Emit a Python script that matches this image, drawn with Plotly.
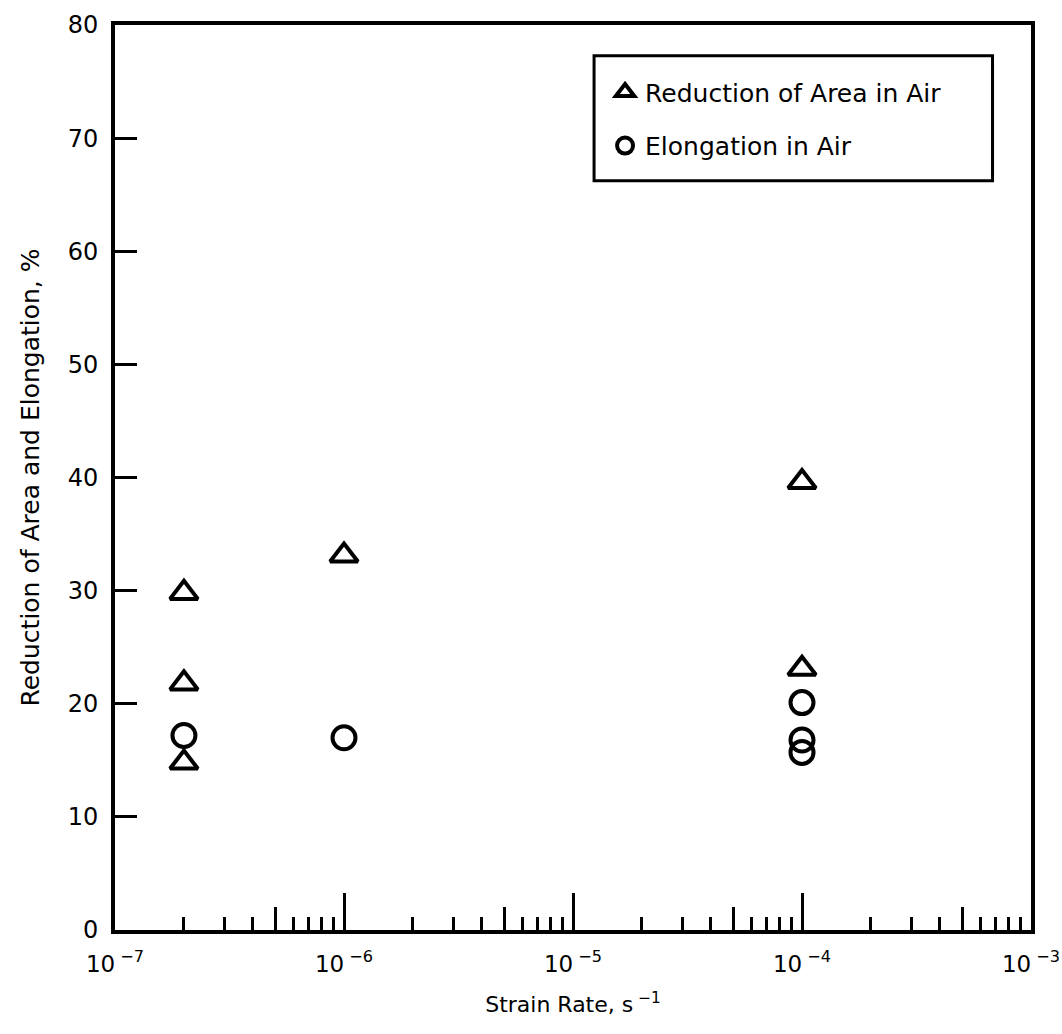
import plotly.graph_objects as go

# Data
ra_rate = [2e-7, 2e-7, 2e-7, 1e-6, 1e-4, 1e-4]
ra_val = [29.8, 21.8, 14.8, 33.1, 39.6, 23.1]
el_rate = [2e-7, 1e-6, 1e-4, 1e-4, 1e-4]
el_val = [17.2, 17.0, 20.1, 16.8, 15.7]

x_major = [1e-7, 1e-6, 1e-5, 1e-4, 1e-3]
x_major_text = ["10<sup> −7</sup>", "10<sup> −6</sup>", "10<sup> −5</sup>", "10<sup> −4</sup>", "10<sup> −3</sup>"]
x_mid = [5e-7, 5e-6, 5e-5, 5e-4]
x_small = [m * d for d in [1e-7, 1e-6, 1e-5, 1e-4] for m in [2, 3, 4, 6, 7, 8, 9]]
y_ticks = [0, 10, 20, 30, 40, 50, 60, 70, 80]

FONT = "DejaVu Sans, Verdana, sans-serif"

fig = go.Figure()
fig.add_trace(go.Scatter(
    x=ra_rate, y=ra_val, mode="markers", name="Reduction of Area in Air",
    legendgroup="a",
    marker=dict(symbol="triangle-up-open", size=24, color="black", line=dict(width=4, color="black")),
))
fig.add_trace(go.Scatter(
    x=el_rate, y=el_val, mode="markers", name="Elongation in Air",
    legendgroup="b",
    marker=dict(symbol="circle-open", size=23, color="black", line=dict(width=4, color="black")),
))
# empty trace to host the short-tick overlay axis
fig.add_trace(go.Scatter(x=[], y=[], xaxis="x2", showlegend=False, hoverinfo="skip"))

xr = [-7, -3]
fig.update_layout(
    width=1062, height=1034,
    margin=dict(l=115, r=31, t=25, b=104, autoexpand=False),
    paper_bgcolor="white", plot_bgcolor="white",
    font=dict(family=FONT, color="black", size=23),
    showlegend=True,
    legend=dict(
        x=0.535, y=0.951, xanchor="left", yanchor="top",
        bgcolor="rgba(0,0,0,0)", borderwidth=0,
        font=dict(size=25, family=FONT),
        tracegroupgap=18, traceorder="grouped",
    ),
    xaxis=dict(
        type="log", range=xr, automargin=False,
        tickmode="array", tickvals=x_major, ticktext=x_major_text,
        ticks="inside", ticklen=37, tickwidth=3, tickcolor="black",
        showline=True, linewidth=4, linecolor="black", mirror=True,
        showgrid=False, zeroline=False,
        ticklabelstandoff=10,
        tickfont=dict(size=23),
        minor=dict(tickmode="array", tickvals=x_mid, ticks="inside", ticklen=23,
                   tickwidth=3, tickcolor="black", showgrid=False),
        title=dict(text="Strain Rate, s<sup> −1</sup>", font=dict(size=22), standoff=22),
    ),
    xaxis2=dict(
        type="log", range=xr, overlaying="x", anchor="y", side="bottom", automargin=False,
        tickmode="array", tickvals=x_small,
        ticks="inside", ticklen=13, tickwidth=3, tickcolor="black",
        showticklabels=False, showline=False, showgrid=False, zeroline=False,
    ),
    yaxis=dict(
        range=[0, 80], tickmode="array", tickvals=y_ticks, automargin=False,
        ticks="inside", ticklen=22, tickwidth=3, tickcolor="black",
        showline=True, linewidth=4, linecolor="black", mirror=True,
        showgrid=False, zeroline=False,
        ticklabelstandoff=8,
        tickfont=dict(size=24),
        title=dict(text="Reduction of Area and Elongation, %", font=dict(size=25), standoff=22),
    ),
    shapes=[dict(
        type="rect", xref="paper", yref="paper",
        x0=0.523, x1=0.958, y0=0.828, y1=0.966,
        line=dict(color="black", width=3), fillcolor="rgba(0,0,0,0)",
    )],
)

fig.write_html("out.html")
